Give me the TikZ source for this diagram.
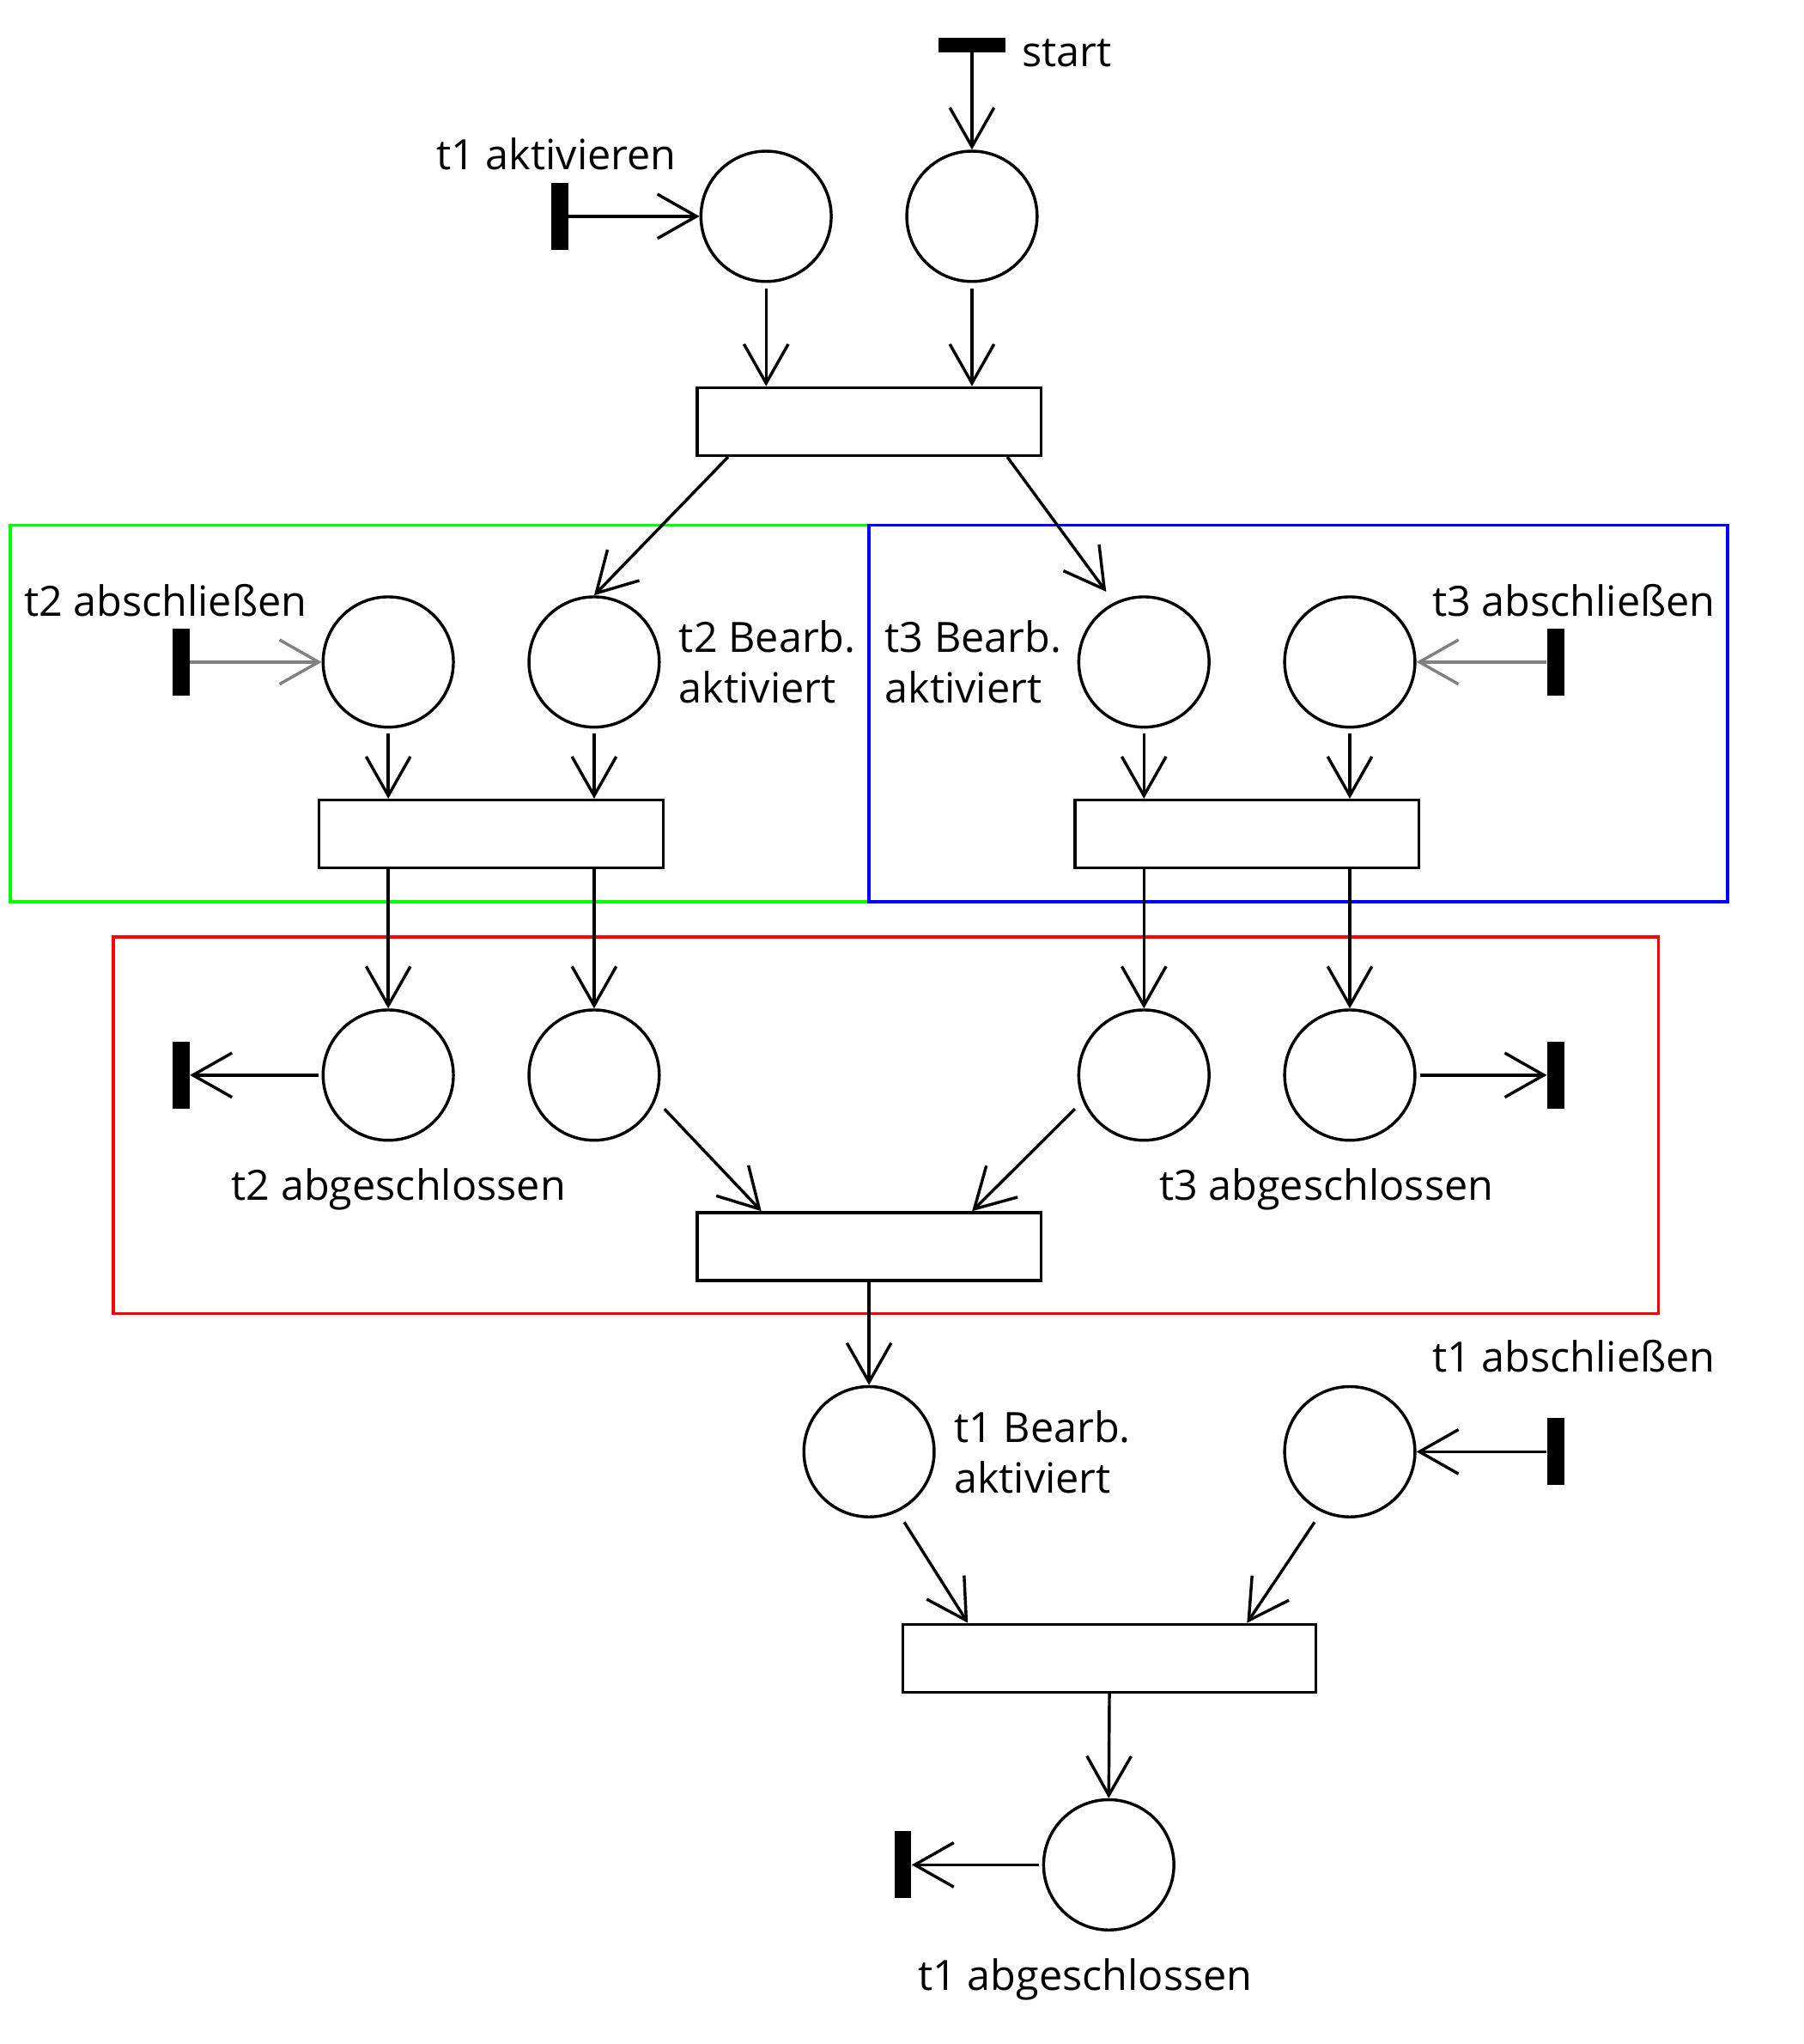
\documentclass[tikz,border=0pt]{standalone}
\usepackage{fontspec}
\setmainfont{Open Sans}
\usetikzlibrary{arrows.meta,calc}
\begin{document}
\begin{tikzpicture}[x=0.75pt,y=-0.75pt,
  every node/.style={font=\fontsize{24pt}{29.25pt}\selectfont},
  place/.style={circle,draw,line width=1.7pt,minimum size=75pt,inner sep=0pt},
  trans/.style={rectangle,draw,line width=1.7pt,minimum width=198pt,minimum height=39pt,inner sep=0pt},
  vbar/.style={rectangle,fill=black,minimum width=9.75pt,minimum height=38.5pt,inner sep=0pt},
  hbar/.style={rectangle,fill=black,minimum width=39pt,minimum height=8.5pt,inner sep=0pt},
  arr/.style={line width=1.7pt,-{Straight Barb[length=22.5pt,width=25.5pt,line width=1.7pt]}},
  garr/.style={arr,color={rgb,255:red,128;green,128;blue,128}},
  lbl/.style={inner sep=0pt},
  frame/.style={line width=1.7pt}
]
\useasboundingbox (0,0) rectangle (1384,1568.5);
% frames
\draw[frame,draw={rgb,255:red,0;green,255;blue,0}] (8,403) rectangle (667,692);
\draw[frame,draw={rgb,255:red,255;green,0;blue,0}] (87,719) rectangle (1273,1008);
\draw[frame,draw={rgb,255:red,0;green,0;blue,255}] (667,403) rectangle (1326,692);

% places
\node[place] (A) at (588,166) {};
\node[place] (B) at (746,166) {};
\node[place] (C1) at (298,508) {};
\node[place] (C2) at (456,508) {};
\node[place] (C3) at (878,508) {};
\node[place] (C4) at (1036,508) {};
\node[place] (D1) at (298,825) {};
\node[place] (D2) at (456,825) {};
\node[place] (D3) at (878,825) {};
\node[place] (D4) at (1036,825) {};
\node[place] (E1) at (667,1114) {};
\node[place] (E2) at (1036,1114) {};
\node[place] (F) at (851,1431) {};

% transitions
\node[trans] (T1) at (667,323.5) {};
\node[trans] (T2) at (377,640) {};
\node[trans] (T3) at (957,640) {};
\node[trans] (T4) at (667,956.5) {};
\node[trans,minimum width=237.75pt] (T5) at (851.5,1272.5) {};

% bars
\node[hbar] (SB) at (746,34.5) {};
\node[vbar] (B1) at (429.5,166) {};
\node[vbar] (B2) at (139,508) {};
\node[vbar] (B3) at (1194,508) {};
\node[vbar] (B4) at (139,825) {};
\node[vbar] (B5) at (1194,825) {};
\node[vbar] (B6) at (1194,1114) {};
\node[vbar] (B7) at (693,1431) {};

% labels
\node[lbl,anchor=base west] (Lstart) at (784,51) {start};
\node[lbl,anchor=base] (L1) at (427,130) {t1 aktivieren};
\node[lbl,anchor=base] (L2) at (127,473) {t2 abschließen};
\node[lbl,anchor=base] (L3) at (1208,473) {t3 abschließen};
\node[lbl,anchor=west,align=left] (L4) at (521,508) {t2 Bearb.\\aktiviert};
\node[lbl,anchor=west,align=left] (L5) at (679,508) {t3 Bearb.\\aktiviert};
\node[lbl,anchor=base] (L6) at (306,921) {t2 abgeschlossen};
\node[lbl,anchor=base] (L7) at (1018,921) {t3 abgeschlossen};
\node[lbl,anchor=west,align=left] (L8) at (732,1114.5) {t1 Bearb.\\aktiviert};
\node[lbl,anchor=base] (L9) at (1208,1053) {t1 abschließen};
\node[lbl,anchor=base] (L10) at (833,1527) {t1 abgeschlossen};

% connectors
\draw[arr] (SB.south) -- (B.north);
\draw[arr] (B1.east) -- (A.west);
\draw[arr,shorten <=3pt] (A.south) -- (A |- T1.north);
\draw[arr,shorten <=3pt] (B.south) -- (B |- T1.north);
\draw[arr] ($(T1.south west)+(25,0)$) -- (C2.north);
\coordinate (C3tip) at ($(C3.center)+(-29,-54)$);
\draw[arr] ($(T1.south east)+(-27,0)$) -- (C3tip);
\draw[garr] (B2.east) -- (C1.west);
\draw[garr] (B3.west) -- (C4.east);
\draw[arr,shorten <=3pt] (C1.south) -- (C1 |- T2.north);
\draw[arr,shorten <=3pt] (C2.south) -- (C2 |- T2.north);
\draw[arr,shorten <=3pt] (C3.south) -- (C3 |- T3.north);
\draw[arr,shorten <=3pt] (C4.south) -- (C4 |- T3.north);
\draw[arr] (C1 |- T2.south) -- (D1.north);
\draw[arr] (C2 |- T2.south) -- (D2.north);
\draw[arr] (C3 |- T3.south) -- (D3.north);
\draw[arr] (C4 |- T3.south) -- (D4.north);
\draw[arr,shorten <=2pt] (D1.west) -- (B4.east);
\draw[arr,shorten <=2pt] (D4.east) -- (B5.west);
\coordinate (D2s) at ($(D2.center)+(54,26)$);
\coordinate (D3s) at ($(D3.center)+(-53,26)$);
\draw[arr] (D2s) -- ($(T4.north west)+(50.5,0)$);
\draw[arr] (D3s) -- ($(T4.north east)+(-54,0)$);
\draw[arr] (T4.south) -- (E1.north);
\draw[arr] (B6.west) -- (E2.east);
\coordinate (E1s) at ($(E1.center)+(27,54)$);
\coordinate (E2s) at ($(E2.center)+(-27,54)$);
\draw[arr] (E1s) -- ($(T5.north west)+(51,0)$);
\draw[arr] (E2s) -- ($(T5.north east)+(-54,0)$);
\draw[arr] (T5.south) -- (F.north);
\draw[arr,shorten <=2pt] (F.west) -- (B7.east);
\end{tikzpicture}
\end{document}
